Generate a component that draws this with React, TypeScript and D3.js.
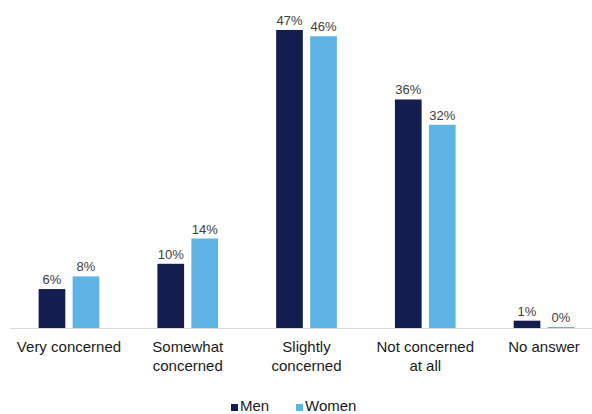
import React from "react";
import * as d3 from "d3";

const categories: string[][] = [
  ["Very concerned"],
  ["Somewhat", "concerned"],
  ["Slightly", "concerned"],
  ["Not concerned", "at all"],
  ["No answer"],
];
const seriesNames = ["Men", "Women"];
const men = [6, 10, 47, 36, 1];
const women = [8, 14, 46, 32, 0];
const seriesColors = ["#131d4f", "#5cb3e4"];

const W = 592;
const H = 414;
const FONT = "'Liberation Sans', Arial, sans-serif";

export default function App() {
  const baseline = 328;
  const keys = categories.map((c) => c.join(" "));
  const x = d3.scaleBand<string>().domain(keys).range([9.6, 603.4]).paddingInner(0).paddingOuter(0);
  const inner = d3
    .scaleBand<string>()
    .domain(seriesNames)
    .range([0, x.bandwidth()])
    .paddingInner(0.215)
    .paddingOuter(0.854);
  const y = d3.scaleLinear().domain([0, 50]).range([baseline, baseline - 316]);
  const series = [men, women];

  return (
    <div style={{ position: "absolute", left: 0, top: 0 }}>
      <svg width={W} height={H} style={{ display: "block", background: "#ffffff" }}>
        <line x1={10} x2={W} y1={baseline + 0.5} y2={baseline + 0.5} stroke="#d9d9d9" strokeWidth={1} />
        {series.map((vals, si) =>
          vals.map((v, i) => {
            const bx = (x(keys[i]) ?? 0) + (inner(seriesNames[si]) ?? 0);
            const top = y(v);
            return (
              <g key={`${si}-${i}`}>
                <rect
                  x={bx}
                  y={top - 1}
                  width={inner.bandwidth()}
                  height={baseline - top + 1}
                  fill={seriesColors[si]}
                />
                <text
                  x={bx + inner.bandwidth() / 2}
                  y={top - 6}
                  textAnchor="middle"
                  fontFamily={FONT}
                  fontSize={13}
                  fill="#404040"
                >
                  {`${v}%`}
                </text>
              </g>
            );
          })
        )}
        {categories.map((lines, i) => (
          <text
            key={keys[i]}
            x={(x(keys[i]) ?? 0) + x.bandwidth() / 2}
            y={352}
            textAnchor="middle"
            fontFamily={FONT}
            fontSize={15}
            fill="#1a1a1a"
          >
            {lines.map((l, j) => (
              <tspan key={j} x={(x(keys[i]) ?? 0) + x.bandwidth() / 2} dy={j === 0 ? 0 : 18.5}>
                {l}
              </tspan>
            ))}
          </text>
        ))}
        <g fontFamily={FONT} fontSize={15} fill="#1a1a1a">
          <rect x={231} y={404} width={7} height={7} fill={seriesColors[0]} />
          <text x={240} y={411}>{seriesNames[0]}</text>
          <rect x={296} y={404} width={7} height={7} fill={seriesColors[1]} />
          <text x={305} y={411}>{seriesNames[1]}</text>
        </g>
      </svg>
    </div>
  );
}
